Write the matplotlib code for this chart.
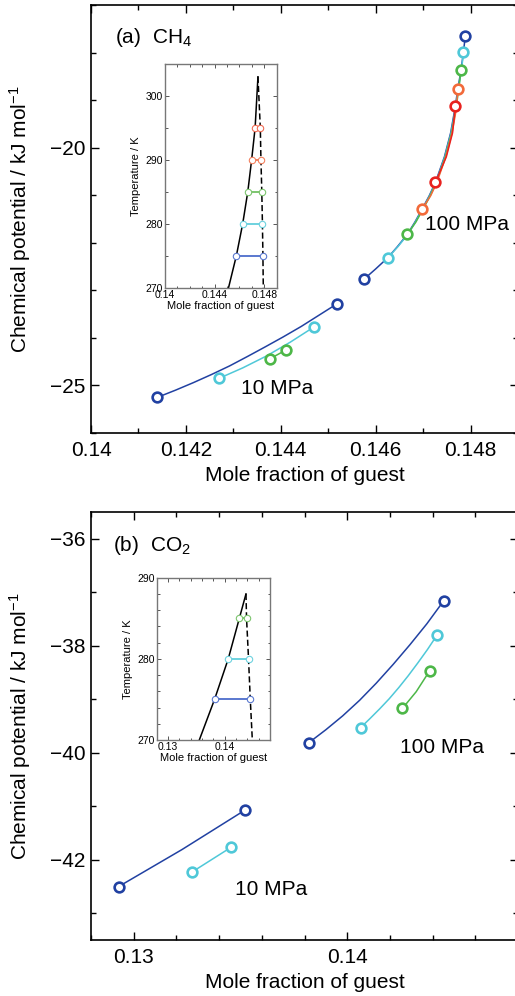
import numpy as np
import matplotlib
matplotlib.use("Agg")
import matplotlib.pyplot as plt
from matplotlib.ticker import MultipleLocator

plt.rcParams['font.family'] = ['Liberation Sans', 'DejaVu Sans']
plt.rcParams['mathtext.fontset'] = 'custom'
plt.rcParams['mathtext.rm'] = 'Liberation Sans'
plt.rcParams['mathtext.it'] = 'Liberation Sans:italic'

# ---- (a) CH4 : chemical potential vs mole fraction, per temperature ----
# 100 MPa branch
ch4_100_275_x = [0.14575, 0.14600, 0.14626, 0.14646, 0.14667, 0.14683, 0.14698, 0.14713,
                 0.14726, 0.14745, 0.14758, 0.14768, 0.14773, 0.14780, 0.14785, 0.14789]
ch4_100_275_y = [-22.77, -22.55, -22.31, -22.08, -21.82, -21.56, -21.29, -21.01,
                 -20.73, -20.19, -19.69, -19.13, -18.77, -18.37, -17.99, -17.65]
ch4_100_280_x = [0.14626, 0.14647, 0.14668, 0.14684, 0.14699, 0.14714, 0.14727,
                 0.14746, 0.14759, 0.14769, 0.14774, 0.14781, 0.14785]
ch4_100_280_y = [-22.31, -22.08, -21.82, -21.56, -21.29, -21.01, -20.73,
                 -20.19, -19.69, -19.13, -18.77, -18.37, -17.99]
ch4_100_285_x = [0.14667, 0.14685, 0.14700, 0.14715, 0.14728, 0.14747, 0.14760,
                 0.14770, 0.14775, 0.14780]
ch4_100_285_y = [-21.82, -21.56, -21.29, -21.01, -20.73, -20.19, -19.69,
                 -19.13, -18.77, -18.37]
ch4_100_290_x = [0.14698, 0.14716, 0.14729, 0.14748, 0.14761, 0.14771, 0.14773]
ch4_100_290_y = [-21.29, -21.01, -20.73, -20.19, -19.69, -19.13, -18.77]
ch4_100_295_x = [0.14726, 0.14749, 0.14762, 0.14768]
ch4_100_295_y = [-20.73, -20.19, -19.69, -19.13]
# 10 MPa branch
ch4_10_275_x = [0.14140, 0.14178, 0.14216, 0.14254, 0.14292, 0.14330,
                0.14367, 0.14405, 0.14443, 0.14481, 0.14519]
ch4_10_275_y = [-25.25, -25.10, -24.94, -24.77, -24.59, -24.39,
                -24.19, -23.98, -23.76, -23.52, -23.28]
ch4_10_280_x = [0.14270, 0.14320, 0.14370, 0.14420, 0.14470]
ch4_10_280_y = [-24.85, -24.63, -24.38, -24.09, -23.77]
ch4_10_285_x = [0.14377, 0.14410]
ch4_10_285_y = [-24.44, -24.26]

# inset (a): phase boundaries in T - x
ch4_tie_T = [275, 280, 285, 290, 295]
ch4_tie_left = [0.14575, 0.14626, 0.14667, 0.14698, 0.14726]
ch4_tie_right = [0.14789, 0.14785, 0.14780, 0.14773, 0.14768]
ch4_solid_x = [0.14512, 0.14575, 0.14626, 0.14667, 0.14698, 0.14726, 0.14749]
ch4_solid_T = [270, 275, 280, 285, 290, 295, 303]
ch4_dash_x = [0.14749, 0.14768, 0.14773, 0.14780, 0.14785, 0.14789, 0.14792]
ch4_dash_T = [303, 295, 290, 285, 280, 275, 270]

# ---- (b) CO2 ----
co2_100_275_x = [0.13821, 0.13900, 0.13979, 0.14058, 0.14136, 0.14215, 0.14294, 0.14373, 0.14452]
co2_100_275_y = [-39.81, -39.57, -39.31, -39.02, -38.70, -38.35, -37.98, -37.59, -37.16]
co2_100_280_x = [0.14063, 0.14107, 0.14152, 0.14197, 0.14242, 0.14286, 0.14331, 0.14376, 0.14421]
co2_100_280_y = [-39.53, -39.36, -39.18, -38.99, -38.78, -38.56, -38.32, -38.07, -37.80]
co2_100_285_x = [0.14259, 0.14323, 0.14386]
co2_100_285_y = [-39.17, -38.86, -38.47]
co2_10_275_x = [0.12930, 0.13226, 0.13522]
co2_10_275_y = [-42.50, -41.81, -41.07]
co2_10_280_x = [0.13273, 0.13455]
co2_10_280_y = [-42.23, -41.77]

co2_tie_T = [275, 280, 285]
co2_tie_left = [0.13821, 0.14063, 0.14259]
co2_tie_right = [0.14452, 0.14421, 0.14386]
co2_solid_x = [0.13552, 0.13821, 0.14063, 0.14259, 0.14376]
co2_solid_T = [270, 275, 280, 285, 288]
co2_dash_x = [0.14376, 0.14386, 0.14421, 0.14452, 0.14488]
co2_dash_T = [288, 285, 280, 275, 270]

col = {275: "#2141a2", 280: "#4fc8d8", 285: "#4db748", 290: "#f26a3a", 295: "#e8221f"}
col_in = {275: "#5a78cf", 280: "#6ed2df", 285: "#7dc56f", 290: "#f3805e", 295: "#f16c55"}


def draw_branch(ax, x, y, T):
    ax.plot(x, y, '-', color=col[T], lw=1.1, zorder=2)
    ax.plot([x[0], x[-1]], [y[0], y[-1]], 'o', mfc='white', mec=col[T],
            ms=7, mew=1.9, zorder=3)


def fmt(v, p):
    return f"{v:.3f}".rstrip('0')


def style_main(ax):
    ax.tick_params(which='both', direction='in', top=True, right=True,
                   labelsize=15, width=1.0)
    ax.tick_params(which='major', length=6)
    ax.tick_params(which='minor', length=3.5)
    ax.tick_params(axis='x', pad=6)
    ax.tick_params(axis='y', pad=4)
    for s in ax.spines.values():
        s.set_linewidth(1.2)
    ax.xaxis.set_major_formatter(plt.FuncFormatter(fmt))
    ax.set_xlabel("Mole fraction of guest", fontsize=15, labelpad=4)
    ax.set_ylabel(r"Chemical potential / kJ mol$^{-1}$", fontsize=15, labelpad=12)


def draw_inset(ax, tie_T, left, right, sx, sT, dx, dT):
    ax.plot(sx, sT, '-', color='black', lw=1.1, zorder=2)
    ax.plot(dx, dT, '--', color='black', lw=1.1, dashes=(4, 2), zorder=2)
    for T, xl, xr in zip(tie_T, left, right):
        ax.plot([xl, xr], [T, T], '-', color=col_in[T], lw=1.4, zorder=3)
        ax.plot([xl, xr], [T, T], 'o', mfc='white', mec=col_in[T],
                ms=4.6, mew=0.8, zorder=4)
    ax.tick_params(which='both', direction='in', top=True, right=True,
                   labelsize=7.5, width=0.7, colors='#555555', labelcolor='black')
    ax.tick_params(which='major', length=3)
    ax.tick_params(which='minor', length=1.8)
    ax.tick_params(axis='x', pad=1.5)
    ax.tick_params(axis='y', pad=1.5)
    for s in ax.spines.values():
        s.set_linewidth(1.0)
        s.set_color('#777777')
    ax.xaxis.set_major_formatter(plt.FuncFormatter(fmt))
    ax.set_xlabel("Mole fraction of guest", fontsize=8, labelpad=1)
    ax.set_ylabel("Temperature / K", fontsize=8, labelpad=3)


fig = plt.figure(figsize=(5.15, 9.96), dpi=100)

# panel (a)
ax1 = fig.add_axes([91 / 515, 1 - 433 / 996, 427 / 515, 428 / 996])
draw_branch(ax1, ch4_10_275_x, ch4_10_275_y, 275)
draw_branch(ax1, ch4_10_280_x, ch4_10_280_y, 280)
draw_branch(ax1, ch4_10_285_x, ch4_10_285_y, 285)
draw_branch(ax1, ch4_100_275_x, ch4_100_275_y, 275)
draw_branch(ax1, ch4_100_280_x, ch4_100_280_y, 280)
draw_branch(ax1, ch4_100_285_x, ch4_100_285_y, 285)
draw_branch(ax1, ch4_100_290_x, ch4_100_290_y, 290)
draw_branch(ax1, ch4_100_295_x, ch4_100_295_y, 295)
ax1.set_xlim(0.14, 0.149)
ax1.set_ylim(-26, -17)
ax1.xaxis.set_major_locator(MultipleLocator(0.002))
ax1.xaxis.set_minor_locator(MultipleLocator(0.001))
ax1.yaxis.set_major_locator(MultipleLocator(5))
ax1.yaxis.set_minor_locator(MultipleLocator(1))
style_main(ax1)
ax1.text(0.1405, -17.8, r"(a)  CH$_4$", fontsize=15, ha='left', va='baseline')
ax1.text(0.14703, -21.61, "100 MPa", fontsize=15, ha='left', va='center')
ax1.text(0.14317, -25.07, "10 MPa", fontsize=15, ha='left', va='center')

ins1 = fig.add_axes([165 / 515, 1 - 287.7 / 996, 111.7 / 515, 223.7 / 996])
draw_inset(ins1, ch4_tie_T, ch4_tie_left, ch4_tie_right,
           ch4_solid_x, ch4_solid_T, ch4_dash_x, ch4_dash_T)
ins1.set_xlim(0.14, 0.149)
ins1.set_ylim(270, 305)
ins1.xaxis.set_major_locator(MultipleLocator(0.004))
ins1.xaxis.set_minor_locator(MultipleLocator(0.001))
ins1.yaxis.set_major_locator(MultipleLocator(10))
ins1.yaxis.set_minor_locator(MultipleLocator(5))

# panel (b)
ax2 = fig.add_axes([91 / 515, 1 - 940 / 996, 427 / 515, 428 / 996])
draw_branch(ax2, co2_10_275_x, co2_10_275_y, 275)
draw_branch(ax2, co2_10_280_x, co2_10_280_y, 280)
draw_branch(ax2, co2_100_275_x, co2_100_275_y, 275)
draw_branch(ax2, co2_100_280_x, co2_100_280_y, 280)
draw_branch(ax2, co2_100_285_x, co2_100_285_y, 285)
ax2.set_xlim(0.128, 0.148)
ax2.set_ylim(-43.5, -35.5)
ax2.xaxis.set_major_locator(MultipleLocator(0.01))
ax2.xaxis.set_minor_locator(MultipleLocator(0.002))
ax2.yaxis.set_major_locator(MultipleLocator(2))
ax2.yaxis.set_minor_locator(MultipleLocator(1))
style_main(ax2)
ax2.text(0.12904, -36.22, r"(b)  CO$_2$", fontsize=15, ha='left', va='baseline')
ax2.text(0.14246, -39.91, "100 MPa", fontsize=15, ha='left', va='center')
ax2.text(0.13475, -42.56, "10 MPa", fontsize=15, ha='left', va='center')

ins2 = fig.add_axes([156.7 / 515, 1 - 740 / 996, 113.3 / 515, 162.3 / 996])
draw_inset(ins2, co2_tie_T, co2_tie_left, co2_tie_right,
           co2_solid_x, co2_solid_T, co2_dash_x, co2_dash_T)
ins2.set_xlim(0.128, 0.148)
ins2.set_ylim(270, 290)
ins2.xaxis.set_major_locator(MultipleLocator(0.01))
ins2.xaxis.set_minor_locator(MultipleLocator(0.002))
ins2.yaxis.set_major_locator(MultipleLocator(10))
ins2.yaxis.set_minor_locator(MultipleLocator(2))

fig.savefig("out.png", dpi=100)
